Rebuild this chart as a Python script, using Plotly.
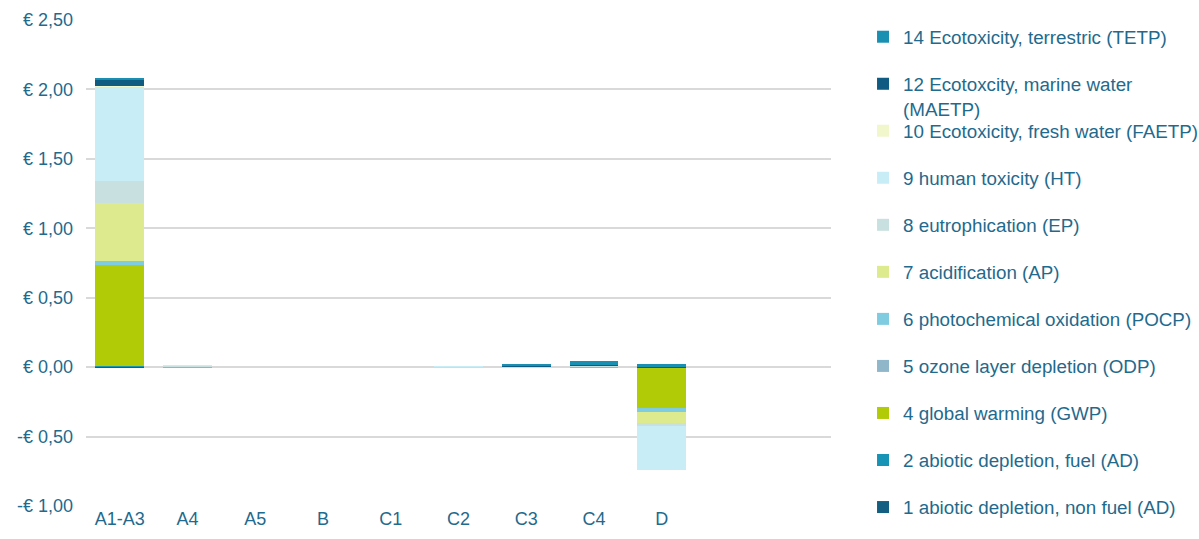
import plotly.graph_objects as go

# Life-cycle stages (modules) on the category axis
stages = ["A1-A3", "A4", "A5", "B", "C1", "C2", "C3", "C4", "D"]

# Shadow cost per impact category and stage (EUR)
ad_non_fuel = [0.002, 0.0, 0.0, 0.0, 0.0, 0.0, 0.0, 0.0, 0.0]
ad_fuel = [0.008, 0.0, 0.0, 0.0, 0.0, 0.0, 0.0, 0.0, 0.0]
gwp = [0.72, 0.002, 0.0, 0.0, 0.0, 0.0, 0.0, 0.004, -0.29]
odp = [0.008, 0.0, 0.0, 0.0, 0.0, 0.0, 0.0, 0.0, -0.006]
pocp = [0.025, 0.0, 0.0, 0.0, 0.0, 0.0, 0.0, 0.0, -0.027]
ap = [0.42, 0.004, 0.0, 0.0, 0.0, 0.0, 0.0, 0.003, -0.077]
ep = [0.155, 0.004, 0.0, 0.0, 0.0, 0.001, 0.002, 0.002, -0.024]
ht = [0.68, 0.003, 0.0, 0.0, 0.0, 0.005, 0.003, 0.004, -0.32]
faetp = [0.005, 0.0, 0.0, 0.0, 0.0, 0.0, 0.0, 0.0, 0.0]
maetp = [0.045, 0.0, 0.0, 0.0, 0.0, 0.0, 0.001, 0.002, 0.003]
tetp = [0.012, 0.0, 0.0, 0.0, 0.0, 0.0, 0.017, 0.027, 0.022]

# Euro-formatted value axis
y_ticks = [-1.0, -0.5, 0.0, 0.5, 1.0, 1.5, 2.0, 2.5]
y_tick_labels = ["-€ 1,00", "-€ 0,50", "€ 0,00", "€ 0,50", "€ 1,00",
                 "€ 1,50", "€ 2,00", "€ 2,50"]

series = [
    ("1 abiotic depletion, non fuel (AD)", ad_non_fuel, "#145E82", "legend2"),
    ("2 abiotic depletion, fuel (AD)", ad_fuel, "#1693B5", "legend2"),
    ("4 global warming (GWP)", gwp, "#B1CB06", "legend2"),
    ("5 ozone layer depletion (ODP)", odp, "#8FB7C9", "legend2"),
    ("6 photochemical oxidation (POCP)", pocp, "#7FCCE0", "legend2"),
    ("7 acidification (AP)", ap, "#DDEA8E", "legend2"),
    ("8 eutrophication (EP)", ep, "#C8E0E0", "legend2"),
    ("9 human toxicity (HT)", ht, "#C9EDF6", "legend2"),
    ("10 Ecotoxicity, fresh water (FAETP)", faetp, "#F1F6CB", "legend2"),
    ("12 Ecotoxcity, marine water<br>(MAETP)", maetp, "#0F5B82", "legend"),
    ("14 Ecotoxicity, terrestric (TETP)", tetp, "#1990B2", "legend"),
]

x_pos = list(range(len(stages)))

fig = go.Figure()
for i, (name, values, color, leg) in enumerate(series):
    fig.add_trace(go.Bar(
        x=x_pos, y=values, name=name, width=0.72,
        marker=dict(color=color, line=dict(width=0)),
        legend=leg, legendgroup=name, legendrank=100 - i,
    ))

text_color = "#1F6A8D"
family = "Liberation Sans, Arial, sans-serif"
tick_font = dict(family=family, size=18, color=text_color)
legend_font = dict(family=family, size=18.8, color=text_color)

legend_common = dict(
    xanchor="left", yanchor="top", x=1.043, yref="container",
    font=legend_font, traceorder="grouped", tracegroupgap=19.6,
    valign="top", bgcolor="rgba(0,0,0,0)", borderwidth=0, maxheight=600,
)

fig.update_layout(
    width=1199, height=539,
    margin=dict(l=86, r=368, t=20, b=33, autoexpand=False),
    barmode="relative", bargap=0,
    plot_bgcolor="white", paper_bgcolor="white",
    font=tick_font,
    legend=dict(y=0.9666, **legend_common),
    legend2=dict(y=0.7922, **legend_common),
    xaxis=dict(
        range=[-0.5, 10.5], tickmode="array", tickvals=x_pos, ticktext=stages,
        showgrid=False, zeroline=False, showline=False, ticks="",
        tickfont=tick_font, fixedrange=True,
    ),
    yaxis=dict(
        range=[-1.0, 2.5], tickmode="array", tickvals=y_ticks, ticktext=y_tick_labels,
        showgrid=True, gridcolor="#D9D9D9", gridwidth=2,
        zeroline=True, zerolinecolor="#D9D9D9", zerolinewidth=2,
        showline=False, ticks="", ticklabelstandoff=12, tickfont=tick_font,
    ),
)

fig.write_html("out.html")
